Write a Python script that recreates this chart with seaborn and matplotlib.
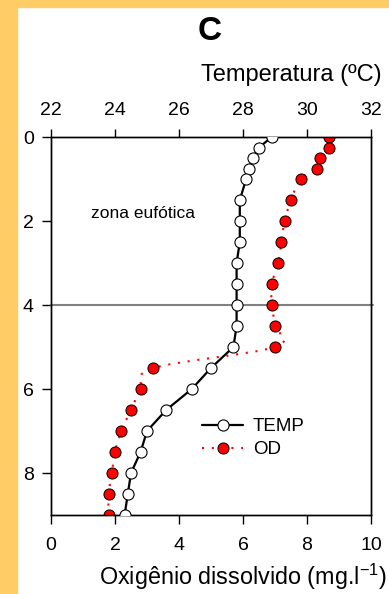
import numpy as np
import pandas as pd
import matplotlib
matplotlib.use("Agg")
import matplotlib.pyplot as plt
from matplotlib.path import Path
from matplotlib.patches import PathPatch, Rectangle
from matplotlib.lines import Line2D
import seaborn as sns

# -- data ---------------------------------------------------------------------
depth = [0, 0.25, 0.5, 0.75, 1.0, 1.5, 2.0, 2.5, 3.0, 3.5, 4.0,
         4.5, 5.0, 5.5, 6.0, 6.5, 7.0, 7.5, 8.0, 8.5, 9.0]
temp = [28.9, 28.5, 28.3, 28.2, 28.1, 27.9, 27.9, 27.9, 27.8, 27.8, 27.8,
        27.8, 27.7, 27.0, 26.4, 25.6, 25.0, 24.8, 24.5, 24.4, 24.3]
od = [8.7, 8.7, 8.4, 8.3, 7.8, 7.5, 7.3, 7.2, 7.1, 6.9, 6.9,
      7.0, 7.0, 3.2, 2.8, 2.5, 2.2, 2.0, 1.9, 1.8, 1.8]

od_ticks = [0, 2, 4, 6, 8, 10]
temp_ticks = [22, 24, 26, 28, 30, 32]
depth_ticks = [0, 2, 4, 6, 8]

df = pd.DataFrame({"depth": depth, "temp": temp, "od": od})

# -- style ---------------------------------------------------------------------
sns.set_theme(style="white")
plt.rcParams["font.family"] = ["Liberation Sans", "DejaVu Sans"]
plt.rcParams["text.color"] = "black"
plt.rcParams["mathtext.fontset"] = "custom"
plt.rcParams["mathtext.rm"] = "Liberation Sans"
plt.rcParams["mathtext.it"] = "Liberation Sans:italic"
YELLOW = "#FFCC66"

fig = plt.figure(figsize=(3.89, 5.94), dpi=100, facecolor="white")
fig.patches.append(Rectangle((0, 0), 17 / 389, 1, transform=fig.transFigure,
                             color=YELLOW, zorder=0))
fig.patches.append(Rectangle((0, 1 - 7 / 594), 1, 7 / 594, transform=fig.transFigure,
                             color=YELLOW, zorder=0))

ax = fig.add_axes([51 / 389, 1 - 515 / 594, 320 / 389, 378 / 594])
ax.set_facecolor("white")
ax2 = ax.twiny()

# OD: smooth dotted line (Excel-style) + red markers
pts = np.column_stack([df["od"], df["depth"]])
ext = np.vstack([pts[0], pts, pts[-1]])
verts = [tuple(pts[0])]
codes = [Path.MOVETO]
for i in range(1, len(ext) - 2):
    p0, p1, p2, p3 = ext[i - 1], ext[i], ext[i + 1], ext[i + 2]
    verts += [tuple(p1 + (p2 - p0) / 6), tuple(p2 - (p3 - p1) / 6), tuple(p2)]
    codes += [Path.CURVE4] * 3
ax.add_patch(PathPatch(Path(verts, codes), facecolor="none", edgecolor="red",
                       lw=1.5, linestyle=(0, (1, 3.7)), zorder=2))
sns.scatterplot(data=df, x="od", y="depth", ax=ax, color="red", edgecolor="black",
                linewidth=0.7, s=64, zorder=3)

# temperature: solid black line with white markers
sns.lineplot(data=df, x="temp", y="depth", ax=ax2, orient="y", sort=False,
             estimator=None, color="black", lw=1.6, marker="o", ms=8,
             markerfacecolor="white", markeredgecolor="black", mew=0.8, zorder=3)

ax.axhline(4, color="#808080", lw=1.5, xmax=1.006, clip_on=False, zorder=1)

ax.set_xlim(0, 10)
ax2.set_xlim(22, 32)
ax.set_ylim(9, 0)
ax.set_xticks(od_ticks)
ax2.set_xticks(temp_ticks)
ax.set_yticks(depth_ticks)
ax.set_xlabel("")
ax.set_ylabel("")
ax2.set_xlabel("")
ax2.set_ylabel("")

for a in (ax, ax2):
    for s in a.spines.values():
        s.set_color("black")
        s.set_linewidth(1.0)
ax.tick_params(axis="x", bottom=True, top=False, direction="out", length=6.5,
               width=1, pad=9, labelsize=14, colors="black")
ax.tick_params(axis="y", left=True, right=False, direction="out", length=6.5,
               width=1, pad=6, labelsize=14, colors="black")
ax2.tick_params(axis="x", top=True, bottom=False, direction="out", length=6,
                width=1, pad=7, labelsize=14, colors="black")

ax.text(2.87, 1.83, "zona eufótica", ha="center", va="center", fontsize=12.5,
        color="black")

handles = [
    Line2D([], [], color="black", lw=1.6, marker="o", ms=8,
           markerfacecolor="white", markeredgecolor="black", mew=0.8),
    Line2D([], [], color="red", lw=1.5, linestyle=(0, (1, 3.7)), marker="o", ms=8,
           markerfacecolor="red", markeredgecolor="black", mew=0.7),
]
leg = ax2.legend(handles, ["TEMP", "OD"], loc="center left",
                 bbox_to_anchor=(0.472, 0.203), frameon=False, fontsize=13.5,
                 handlelength=2.2, handletextpad=0.5, borderpad=0,
                 borderaxespad=0, labelspacing=0.3)
for t in leg.get_texts():
    t.set_color("black")

fig.text(210 / 389, 1 - 31 / 594, "C", ha="center", va="center",
         fontsize=24, fontweight="bold", color="black")
fig.text(382 / 389, 1 - 75 / 594, "Temperatura (ºC)", ha="right", va="center",
         fontsize=17, color="black")
fig.text(387 / 389, 1 - 577 / 594, "Oxigênio dissolvido (mg.l$^{-1}$)",
         ha="right", va="center", fontsize=16.8, color="black")

fig.savefig("out.png", dpi=100, facecolor="white")
